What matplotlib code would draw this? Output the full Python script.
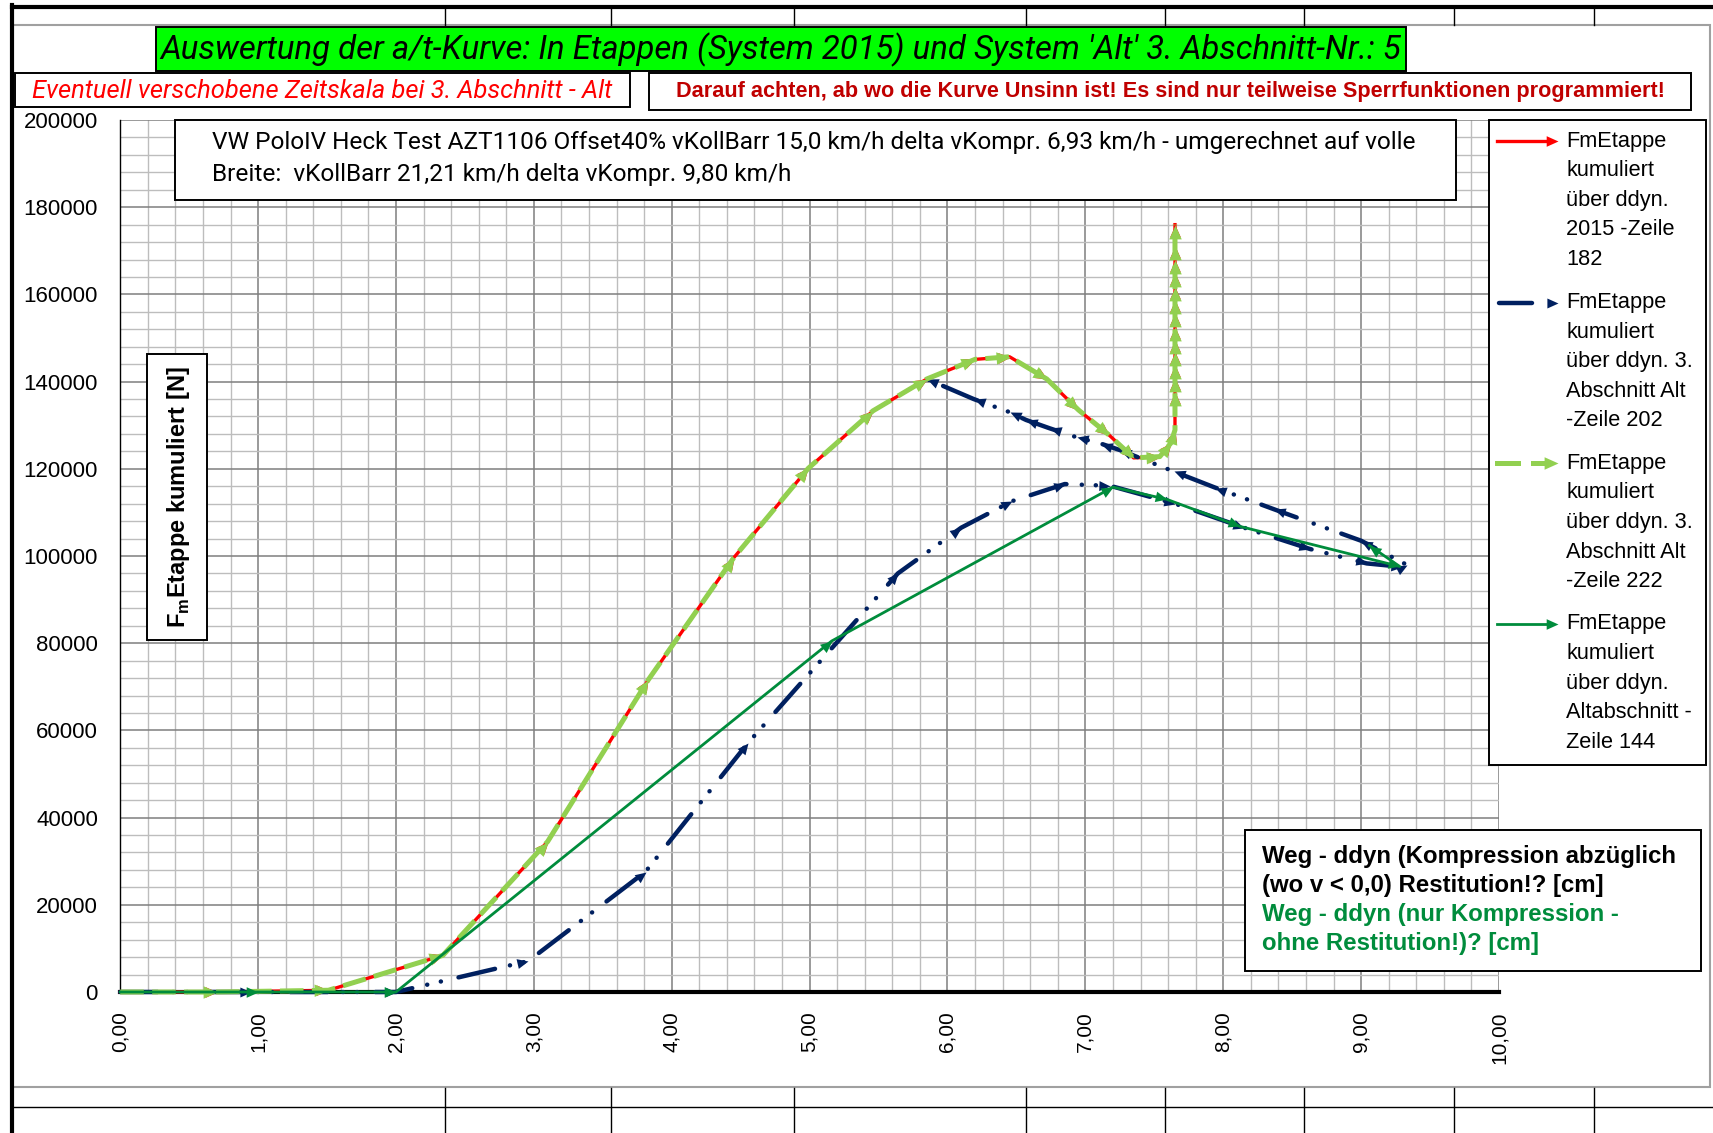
import numpy as np
import matplotlib
matplotlib.use("Agg")
import matplotlib.pyplot as plt
from matplotlib import font_manager as fm
from matplotlib.markers import MarkerStyle
from matplotlib.path import Path
from matplotlib.transforms import Affine2D
from matplotlib.patches import Rectangle
from matplotlib.ticker import MultipleLocator, FuncFormatter

# ---------------- data ----------------
x_2015 = [0.0, 0.7, 1.51, 2.34, 3.10, 3.83, 4.45, 4.99, 5.46, 5.85, 6.20, 6.45, 6.72, 6.95,
          7.17, 7.35, 7.54, 7.62, 7.65, 7.65, 7.65, 7.65, 7.65, 7.65, 7.65, 7.65, 7.65, 7.65,
          7.65, 7.65, 7.65, 7.65]
y_2015 = [0, 0, 400, 8400, 34500, 71600, 99600, 120100, 133300, 140600, 145100, 145700, 140600,
          133500, 127800, 122500, 122800, 125900, 128900, 137700, 140800, 143800, 146900, 149600,
          152600, 155700, 158800, 161800, 164900, 168000, 171000, 176000]

x_alt202 = [0.0, 0.95, 2.0, 2.96, 3.81, 4.55, 5.64, 6.10, 6.47, 6.85, 7.18, 7.65, 8.15, 8.63,
            9.04, 9.30, 9.33, 9.00, 8.37, 7.94, 7.64, 7.25, 7.11, 6.94, 6.74, 6.57, 6.45, 6.19, 5.85]
y_alt202 = [0, 0, 0, 7100, 27600, 57000, 96000, 106500, 112600, 116500, 116100, 112000, 106500,
            101600, 98300, 97500, 98000, 103500, 110700, 115700, 119400, 124300, 125800, 127200,
            129300, 131200, 133000, 136000, 140600]

x_alt222 = list(x_2015)
y_alt222 = list(y_2015)

x_alt144 = [0.0, 1.0, 2.0, 5.16, 7.20, 7.59, 8.12, 9.28, 9.06]
y_alt144 = [0, 0, 0, 80500, 115800, 113000, 106800, 97600, 102400]

x_ticks = [0, 1, 2, 3, 4, 5, 6, 7, 8, 9, 10]
y_ticks = [0, 20000, 40000, 60000, 80000, 100000, 120000, 140000, 160000, 180000, 200000]

legend_labels = [
    ["FmEtappe", "kumuliert", "über ddyn.", "2015 -Zeile", "182"],
    ["FmEtappe", "kumuliert", "über ddyn. 3.", "Abschnitt Alt", "-Zeile 202"],
    ["FmEtappe", "kumuliert", "über ddyn. 3.", "Abschnitt Alt", "-Zeile 222"],
    ["FmEtappe", "kumuliert", "über ddyn.", "Altabschnitt -", "Zeile 144"],
]
title = "Auswertung der a/t-Kurve: In Etappen (System 2015) und System 'Alt' 3. Abschnitt-Nr.: 5"
note_red = "Eventuell verschobene Zeitskala bei 3. Abschnitt - Alt"
note_dark = "Darauf achten, ab wo die Kurve Unsinn ist! Es sind nur teilweise Sperrfunktionen programmiert!"
info_lines = ["VW PoloIV Heck Test AZT1106 Offset40% vKollBarr 15,0 km/h delta vKompr. 6,93 km/h - umgerechnet auf volle",
              "Breite:  vKollBarr 21,21 km/h delta vKompr. 9,80 km/h"]
xlabel_lines = ["Weg - ddyn (Kompression abzüglich", "(wo v < 0,0) Restitution!? [cm]",
                "Weg - ddyn (nur Kompression -", "ohne Restitution!)? [cm]"]
ylabel = r"F$_\mathbf{m}$Etappe kumuliert [N]"

# ---------------- fonts ----------------
installed = {f.name for f in fm.fontManager.ttflist}
def pick(*names):
    for n in names:
        if n in installed:
            return n
    return "DejaVu Sans"
SANS = pick("Liberation Sans", "Arial", "DejaVu Sans")
NARROW = pick("Liberation Sans Narrow", "DejaVu Sans Condensed", "Roboto", "Liberation Sans")

plt.rcParams["font.family"] = [SANS, "DejaVu Sans"]
plt.rcParams["mathtext.fontset"] = "custom"
plt.rcParams["mathtext.rm"] = SANS
plt.rcParams["mathtext.bf"] = SANS + ":bold"
plt.rcParams["lines.scale_dashes"] = False

RED = "#FF0000"
NAVY = "#002060"
LGREEN = "#92D050"
GREEN = "#008C3C"

W, H, DPI = 1713, 1133, 100
fig = plt.figure(figsize=(W / DPI, H / DPI), dpi=DPI)
fig.patch.set_facecolor("white")

X0, X1, Y0, Y1 = 120.2, 1499.0, 992.0, 120.0
ax = fig.add_axes([X0 / W, 1 - Y0 / H, (X1 - X0) / W, (Y0 - Y1) / H])
ax.set_xlim(0, 10)
ax.set_ylim(0, 200000)
ax.xaxis.set_major_locator(MultipleLocator(1))
ax.xaxis.set_minor_locator(MultipleLocator(0.2))
ax.yaxis.set_major_locator(MultipleLocator(20000))
ax.yaxis.set_minor_locator(MultipleLocator(4000))
ax.set_xticks(x_ticks)
ax.set_yticks(y_ticks)
ax.xaxis.set_major_formatter(FuncFormatter(lambda v, p: f"{v:.2f}".replace(".", ",")))
ax.yaxis.set_major_formatter(FuncFormatter(lambda v, p: f"{int(round(v))}"))
ax.set_axisbelow(True)
ax.grid(which="minor", color="#bdbdbd", lw=1.0)
ax.grid(which="major", color="#7f7f7f", lw=1.1)
ax.tick_params(which="both", length=0)
ax.tick_params(axis="x", labelsize=15, labelrotation=90, pad=14)
ax.tick_params(axis="y", labelsize=16, pad=16)
for s in ("top", "right"):
    ax.spines[s].set_visible(False)
ax.spines["left"].set_color("black")
ax.spines["left"].set_linewidth(1.0)
ax.spines["bottom"].set_color("black")
ax.spines["bottom"].set_linewidth(3.0)
ax.spines["bottom"].set_zorder(1.5)
ax.spines["left"].set_zorder(1.5)

HEAD = Path([(0, 0), (-2, 0.9), (-2, -0.9), (0, 0)],
            [Path.MOVETO, Path.LINETO, Path.LINETO, Path.CLOSEPOLY])

def arrows(axis, xs, ys, color, ms, z):
    pts = axis.transData.transform(np.column_stack([xs, ys]))
    for i in range(1, len(xs)):
        dx, dy = pts[i] - pts[i - 1]
        if dx * dx + dy * dy < 1e-6:
            continue
        ang = np.degrees(np.arctan2(dy, dx))
        m = MarkerStyle(HEAD, transform=Affine2D().rotate_deg(ang))
        axis.plot([xs[i]], [ys[i]], marker=m, ms=ms, color=color, mew=0, ls="none",
                  zorder=z, clip_on=False)

# series
ax.plot(x_2015, y_2015, color=RED, lw=2.4, zorder=3, clip_on=False, solid_joinstyle="round")
arrows(ax, x_2015, y_2015, RED, 17, 3.1)

ax.plot(x_alt202, y_alt202, color=NAVY, lw=3.2, zorder=4, clip_on=False,
        linestyle=(0, (27, 11, 0.1, 10, 0.1, 13)), dash_capstyle="round")
arrows(ax, x_alt202, y_alt202, NAVY, 16, 4.1)

ax.plot(x_alt222, y_alt222, color=LGREEN, lw=3.6, zorder=5, clip_on=False,
        linestyle=(0, (17, 6)), dash_capstyle="butt")
arrows(ax, x_alt222, y_alt222, LGREEN, 20, 5.1)

ax.plot(x_alt144, y_alt144, color=GREEN, lw=2.0, zorder=6, clip_on=False)
arrows(ax, x_alt144, y_alt144, GREEN, 17, 6.1)

# ---------------- overlay in pixel coordinates ----------------
ov = fig.add_axes([0, 0, 1, 1], zorder=10)
ov.set_xlim(0, W)
ov.set_ylim(H, 0)
ov.axis("off")
ov.patch.set_alpha(0)

cols = [445, 611, 794, 1026, 1165, 1304, 1454, 1594]
ov.add_patch(Rectangle((12, 25), 1698, 1062, fill=False, edgecolor="#a0a0a0", lw=1.5, zorder=1))
ov.plot([12, W], [7, 7], color="black", lw=3, zorder=2)
ov.plot([12, 12], [5, H], color="black", lw=3, zorder=2)
ov.plot([12, W], [1107, 1107], color="black", lw=1, zorder=2)
for c in cols:
    ov.plot([c, c], [7, 25], color="black", lw=1, zorder=2)
    ov.plot([c, c], [1088, H], color="black", lw=1, zorder=2)

def box(x0, y0, x1, y1, face="white"):
    ov.add_patch(Rectangle((x0, y0), x1 - x0, y1 - y0, facecolor=face, edgecolor="black",
                           lw=1.4, zorder=3))

box(156, 27, 1406, 71, "#00FF00")
box(15, 73, 630, 107)
box(649, 73, 1691, 110)
box(175, 120, 1456, 200)
box(1489, 120, 1706, 765)
box(1245, 830, 1701, 971)
box(147, 354, 207, 640)

ov.text(781, 50, title, ha="center", va="center", fontsize=23.7, style="italic",
        family=[NARROW, "DejaVu Sans"], color="black", zorder=4)
ov.text(322, 91, note_red, ha="center", va="center", fontsize=18.4, style="italic",
        family=[NARROW, "DejaVu Sans"], color=RED, zorder=4)
ov.text(1170, 92, note_dark, ha="center", va="center", fontsize=15.6, weight="bold",
        color="#C00000", zorder=4)
ov.text(212, 142, info_lines[0], ha="left", va="center", fontsize=17.6,
        family=[NARROW, "DejaVu Sans"], color="black", zorder=4)
ov.text(212, 175, info_lines[1], ha="left", va="center", fontsize=17.6,
        family=[NARROW, "DejaVu Sans"], color="black", zorder=4)

ov.text(178, 497, ylabel, rotation=90, ha="center", va="center", fontsize=17, weight="bold",
        color="black", zorder=4)

xl_colors = ["black", "black", GREEN, GREEN]
for k, (t, c) in enumerate(zip(xlabel_lines, xl_colors)):
    ov.text(1262, 857 + 28.7 * k, t, ha="left", va="center", fontsize=17.3, weight="bold",
            color=c, zorder=4)

# legend
entry_y = [141, 302.6, 463.2, 623.8]
for lines, ey in zip(legend_labels, entry_y):
    for j, t in enumerate(lines):
        ov.text(1566, ey + 29.6 * j, t, ha="left", va="center", fontsize=15.7, color="black", zorder=4)

def head_at(xp, yp, color, ms):
    ov.plot([xp], [yp], marker=MarkerStyle(HEAD), ms=ms, color=color, mew=0, ls="none", zorder=5)

ey = entry_y
ov.plot([1497, 1550], [ey[0], ey[0]], color=RED, lw=2.4, zorder=5)
head_at(1558, ey[0], RED, 17)
ov.plot([1499, 1532], [ey[1], ey[1]], color=NAVY, lw=3.2, solid_capstyle="round", zorder=5)
head_at(1558, ey[1], NAVY, 16)
ov.plot([1497, 1518], [ey[2], ey[2]], color=LGREEN, lw=3.6, zorder=5)
ov.plot([1533, 1550], [ey[2], ey[2]], color=LGREEN, lw=3.6, zorder=5)
head_at(1558, ey[2], LGREEN, 20)
ov.plot([1497, 1550], [ey[3], ey[3]], color=GREEN, lw=2.0, zorder=5)
head_at(1558, ey[3], GREEN, 17)

fig.savefig("out.png", dpi=DPI, facecolor="white")
